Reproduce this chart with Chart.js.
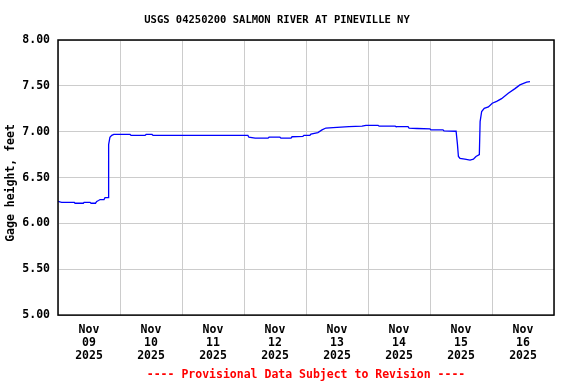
<!DOCTYPE html>
<html>
<head>
<meta charset="utf-8">
<script src="https://cdn.jsdelivr.net/npm/chart.js@4/dist/chart.umd.min.js"></script>
<style>
  body { margin: 0; background: #fff; }
  canvas { display: block; }
</style>
</head>
<body>
<canvas id="gage-chart" width="576" height="384"></canvas>
<script>
// Hauteur d'eau - USGS 04250200, 9 au 16 nov. 2025 (heures depuis le 9 nov. 00:00)
const hours = [0, 1.4, 6.3, 6.6, 9.8, 10.1, 12.4, 12.8, 14.5, 15.0, 15.7, 16.3, 17.8, 18.2, 19.4, 19.5, 19.7, 20.1, 20.8, 21.6,
  27.9, 28.3, 33.7, 34.1, 36.4, 36.8, 50.3, 73.5, 73.9, 76.3, 81.3, 81.7, 85.9, 86.3, 90.2, 90.6, 94.8, 95.2, 97.5, 97.9,
  100.6, 102.2, 103.7, 106.5, 112.6, 117.7, 119.2, 123.9, 124.3, 130.5, 130.8, 135.5, 135.9, 139.0, 144.0, 144.4, 149.0, 149.4,
  154.1, 154.6, 155.0, 155.6, 157.5, 159.5, 160.8, 161.8, 163.1, 163.4, 164.0, 165.0, 166.6, 168.1, 169.8, 171.7, 174.3,
  176.9, 178.8, 181.4, 182.7];
const gageHeight = [6.24, 6.23, 6.23, 6.22, 6.22, 6.23, 6.23, 6.22, 6.22, 6.24, 6.25, 6.26, 6.26, 6.28, 6.28, 6.66, 6.86, 6.94, 6.96, 6.97,
  6.97, 6.96, 6.96, 6.97, 6.97, 6.96, 6.96, 6.96, 6.94, 6.93, 6.93, 6.94, 6.94, 6.93, 6.93, 6.945, 6.95, 6.96, 6.96, 6.975,
  6.99, 7.02, 7.04, 7.045, 7.055, 7.06, 7.07, 7.07, 7.06, 7.06, 7.055, 7.055, 7.04, 7.035, 7.03, 7.02, 7.02, 7.01,
  7.005, 6.87, 6.73, 6.71, 6.70, 6.69, 6.70, 6.73, 6.75, 7.11, 7.22, 7.255, 7.27, 7.31, 7.33, 7.36, 7.42,
  7.47, 7.51, 7.54, 7.545];
const dayLabels = ['09', '10', '11', '12', '13', '14', '15', '16'];
const monthLabel = 'Nov';
const yearLabel = '2025';
const yTicks = [5.0, 5.5, 6.0, 6.5, 7.0, 7.5, 8.0];

const FONT = "'DejaVu Sans Mono', 'Liberation Mono', monospace";
const GRID = '#cccccc';

// Cadre noir autour de la zone du graphique + titre de l'axe Y
const framePlugin = {
  id: 'frame',
  afterDatasetsDraw(chart) {
    const { ctx, chartArea: a } = chart;
    ctx.save();
    ctx.strokeStyle = '#000';
    ctx.lineWidth = 1.5;
    ctx.strokeRect(a.left, a.top, a.right - a.left, a.bottom - a.top);
    ctx.restore();
  },
  afterDraw(chart) {
    const { ctx } = chart;
    ctx.save();
    ctx.translate(11.5, 183);
    ctx.rotate(-Math.PI / 2);
    ctx.font = `bold 11.5px ${FONT}`;
    ctx.fillStyle = '#000';
    ctx.textAlign = 'center';
    ctx.textBaseline = 'middle';
    ctx.fillText('Gage height, feet', 0, 0);
    ctx.restore();
  },
};

const points = hours.map((h, i) => ({ x: h, y: gageHeight[i] }));

new Chart(document.getElementById('gage-chart').getContext('2d'), {
  type: 'line',
  data: {
    datasets: [{
      label: 'Gage height',
      data: points,
      borderColor: '#0000ff',
      borderWidth: 1.3,
      pointRadius: 0,
      tension: 0,
      fill: false,
    }],
  },
  options: {
    responsive: false,
    animation: false,
    layout: { padding: { left: 0, right: 22, top: 0, bottom: 0 } },
    plugins: {
      legend: { display: false },
      tooltip: { enabled: false },
      title: {
        display: true,
        text: 'USGS 04250200 SALMON RIVER AT PINEVILLE NY',
        color: '#000',
        font: { family: FONT, size: 10.5, weight: 'bold', lineHeight: 1.2 },
        padding: { top: 14.2, bottom: 13.2 },
      },
      subtitle: {
        display: true,
        position: 'bottom',
        fullSize: false,
        text: '---- Provisional Data Subject to Revision ----',
        color: '#ff0000',
        font: { family: FONT, size: 11.5, weight: 'bold', lineHeight: 1.2 },
        padding: { top: 0, bottom: 2.1 },
      },
    },
    scales: {
      x: {
        type: 'linear',
        min: 0,
        max: dayLabels.length * 24,
        afterFit: (s) => { s.height = 53; },
        border: { display: false },
        grid: {
          drawTicks: false,
          color: (c) => (c.tick && c.tick.value % 24 === 0 ? GRID : 'rgba(0,0,0,0)'),
        },
        ticks: {
          stepSize: 12,
          autoSkip: false,
          maxRotation: 0,
          padding: 8.5,
          color: '#000',
          font: { family: FONT, size: 11.5, weight: 'bold', lineHeight: '13px' },
          callback: (v) => {
            if (v % 24 !== 12) return '';
            const d = dayLabels[Math.floor(v / 24)];
            return d ? [monthLabel, d, yearLabel] : '';
          },
        },
      },
      y: {
        min: yTicks[0],
        max: yTicks[yTicks.length - 1],
        afterFit: (s) => { s.width = 58; },
        afterBuildTicks: (s) => { s.ticks = yTicks.map((v) => ({ value: v })); },
        border: { display: false },
        grid: { drawTicks: false, color: GRID },
        ticks: {
          padding: 8,
          color: '#000',
          font: { family: FONT, size: 11.5, weight: 'bold' },
          callback: (v) => Number(v).toFixed(2),
        },
      },
    },
  },
  plugins: [framePlugin],
});
</script>
</body>
</html>
